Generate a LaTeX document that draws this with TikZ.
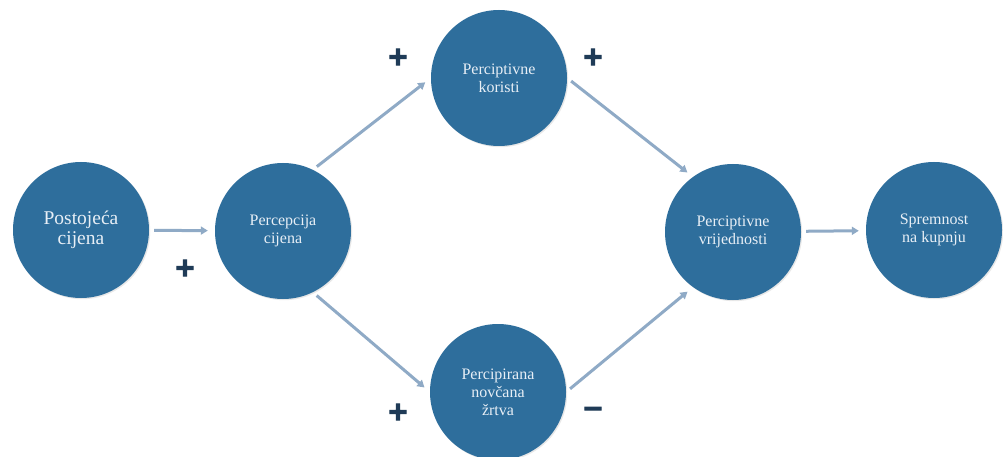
\documentclass[tikz,border=0pt]{standalone}
\usepackage{fontspec}
\setmainfont{Liberation Serif}
\newfontfamily\bubblefont{Liberation Serif}
\newfontfamily\symfont[FakeBold=4]{DejaVu Sans Bold}
\usetikzlibrary{arrows.meta,shadows}
\definecolor{circfill}{HTML}{2E6E9C}
\definecolor{circtext}{HTML}{E8EFF6}
\definecolor{arrowcol}{HTML}{8FAAC6}
\definecolor{signcol}{HTML}{1F3B57}
\begin{document}
\begin{tikzpicture}[x=1pt,y=-1pt,
  bubble/.style={circle, fill=circfill, minimum size=136pt, inner sep=0pt,
    text=circtext, align=center, font=\bubblefont\fontsize{16}{18}\selectfont,
    drop shadow={opacity=0.18, shadow xshift=1.2pt, shadow yshift=-1.2pt}},
  link/.style={draw=arrowcol, line width=3pt,
    -{Triangle[length=7pt,width=8pt]}, shorten <=5pt, shorten >=7pt},
  sign/.style={text=signcol, font=\symfont\fontsize{26}{26}\selectfont, inner sep=0pt}]
\useasboundingbox (0,0) rectangle (1003,457);
\fill[white] (0,0) rectangle (1003,457);

\node[bubble, font=\bubblefont\fontsize{19.5}{20}\selectfont] (pc) at (81,230) {Postojeća\\cijena};
\node[bubble] (pcj) at (283,231) {Percepcija\\cijena};
\node[bubble] (pk) at (499,78) {Perciptivne\\koristi};
\node[bubble] (pz) at (498,392) {Percipirana\\novčana\\žrtva};
\node[bubble] (pv) at (733,232) {Perciptivne\\vrijednosti};
\node[bubble] (sk) at (934,230) {Spremnost\\na kupnju};

\draw[link] (pc) -- (pcj);
\draw[link] (pcj.64) -- (pk.west);
\draw[link] (pcj.-64) -- (pz.west);
\draw[link] (pk.east) -- (pv.126);
\draw[link] (pz.east) -- (pv.-126);
\draw[link] (pv) -- (sk);

\node[sign] (s1) at (185,268) {+};
\node[sign] (s2) at (398,57) {+};
\node[sign] (s3) at (593,57) {+};
\node[sign] (s4) at (398,412) {+};
\node[sign] (s5) at (593,412) {−};
\end{tikzpicture}
\end{document}
